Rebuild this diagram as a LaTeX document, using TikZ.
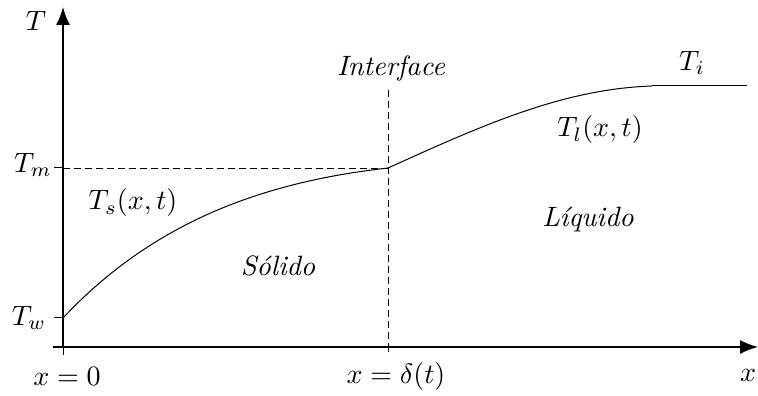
\documentclass[tikz,border=0pt]{standalone}
\usepackage{amsmath}
\usepackage{tikz}
\usetikzlibrary{positioning, arrows.meta}

\begin{document}
\begin{tikzpicture}[
    x=1pt, y=1pt,
    axis/.style={line width=1.6pt, -{Latex[length=18pt,width=14pt]}},
    tick/.style={line width=1pt},
    guide/.style={draw, dashed, line width=0.9pt, dash pattern=on 7pt off 4pt},
    curve/.style={line width=1pt},
    label/.style={inner sep=0.5pt, scale=2.8}
]

\useasboundingbox (-63,-49) rectangle (695,347);

% Axes
\coordinate (o) at (0,0);
\coordinate (xend) at (695,0);
\coordinate (yend) at (0,340);
\coordinate (xstart) at (-10,0);
\draw[axis] (xstart) -- (xend);
\draw[axis] (o) -- (yend);

% Ticks
\coordinate (tw) at (0,29);
\coordinate (tm) at (0,179);
\coordinate (front) at (325,179);
\coordinate (frontfoot) at (325,0);
\coordinate (frontbot) at (325,-5);
\coordinate (otick) at (0,-8);
\coordinate (twl) at (-9,29);
\coordinate (tml) at (-9,179);
\draw[tick] (twl) -- (tw);
\draw[tick] (tml) -- (tm);
\draw[tick] (o) -- (otick);
\draw[tick] (frontfoot) -- (frontbot);

% Interface and melting level
\coordinate (ifacetop) at (325,257);
\draw[guide] (tm) -- (front);
\draw[guide] (ifacetop) -- (frontfoot);

% Temperature profile
\coordinate (knee) at (589,261);
\coordinate (far) at (684,261);
\draw[curve] (tw) .. controls (90,125) and (200,165) .. (front);
\draw[curve] (front) .. controls (420,222) and (500,258) .. (knee);
\draw[curve] (knee) -- (far);

% Labels
\node[label] (lT) at (-27,326) {$T$};
\node[label] (lTm) at (-30,182) {$T_m$};
\node[label] (lTw) at (-34,29) {$T_w$};
\node[label] (lTs) at (70,144) {$T_s(x,t)$};
\node[label] (lsol) at (215,81) {\itshape S\'olido};
\node[label] (liface) at (328,278) {\itshape Interface};
\node[label] (lTl) at (537,217) {$T_l(x,t)$};
\node[label] (lliq) at (525,128) {\itshape L\'iquido};
\node[label] (lTi) at (629,284) {$T_i$};
\node[label] (lx0) at (4,-29) {$x=0$};
\node[label] (lxd) at (333,-30) {$x=\delta(t)$};
\node[label] (lx) at (685,-28) {$x$};

\end{tikzpicture}
\end{document}
